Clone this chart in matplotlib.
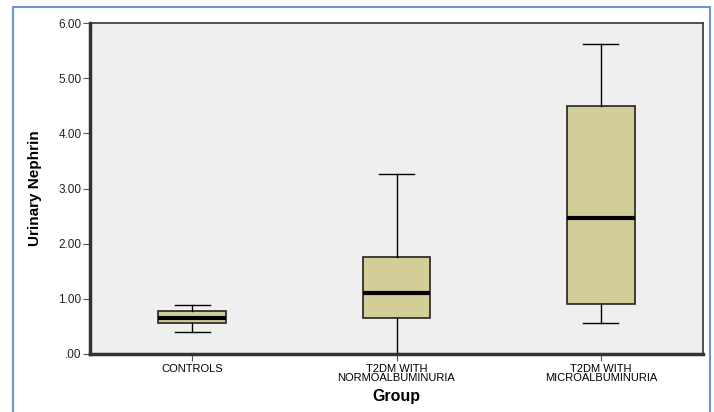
import numpy as np
import matplotlib.pyplot as plt
from matplotlib.patches import Rectangle

plt.rcParams['font.family'] = ['Liberation Sans', 'DejaVu Sans']

# box plot summary per group
groups = ['CONTROLS', 'T2DM WITH\nNORMOALBUMINURIA', 'T2DM WITH\nMICROALBUMINURIA']
whisker_low = [0.39, 0.00, 0.56]
q1 = [0.56, 0.66, 0.90]
median = [0.66, 1.10, 2.46]
q3 = [0.78, 1.76, 4.50]
whisker_high = [0.89, 3.26, 5.62]
yticks = [0, 1, 2, 3, 4, 5, 6]
yticklabels = ['.00', '1.00', '2.00', '3.00', '4.00', '5.00', '6.00']

stats = []
for i in range(len(groups)):
    stats.append({'whislo': whisker_low[i], 'q1': q1[i], 'med': median[i],
                  'q3': q3[i], 'whishi': whisker_high[i], 'fliers': []})

fig = plt.figure(figsize=(7.14, 4.12), dpi=100)
ax = fig.add_axes([90 / 714, 1 - 354 / 412, 613 / 714, 331 / 412])
ax.set_facecolor('#efefef')

ax.bxp(stats, positions=range(len(groups)), widths=0.33, patch_artist=True,
       boxprops=dict(facecolor='#d3cd98', edgecolor='#222222', linewidth=1.2),
       medianprops=dict(color='black', linewidth=3),
       whiskerprops=dict(color='black', linewidth=1),
       capprops=dict(color='black', linewidth=1), capwidths=0.17)

ax.set_xlim(-0.5, 2.5)
ax.set_ylim(0, 6)
ax.set_yticks(yticks)
ax.set_yticklabels(yticklabels, fontsize=8.5, color='#222222')
ax.set_xticks(range(len(groups)))
ax.set_xticklabels(groups, fontsize=8, linespacing=0.95)
ax.tick_params(axis='y', length=5, width=0.8, color='#555555', pad=1)
ax.tick_params(axis='x', length=5, width=0.8, color='#555555', pad=2)

for side in ['left', 'bottom']:
    ax.spines[side].set_linewidth(2.5)
    ax.spines[side].set_color('#333333')
for side in ['top', 'right']:
    ax.spines[side].set_linewidth(1.2)
    ax.spines[side].set_color('#333333')

ax.set_ylabel('Urinary Nephrin', fontsize=11, fontweight='bold', labelpad=12)
ax.set_xlabel('Group', fontsize=11.5, fontweight='bold', labelpad=4)

# blue frame around the figure
fig.patches.append(Rectangle((13 / 714, -0.05), 697 / 714, 1 - 7 / 412 + 0.05,
                             transform=fig.transFigure, fill=False,
                             edgecolor='#6b95d2', linewidth=1.5))

fig.savefig('out.png', dpi=100)
